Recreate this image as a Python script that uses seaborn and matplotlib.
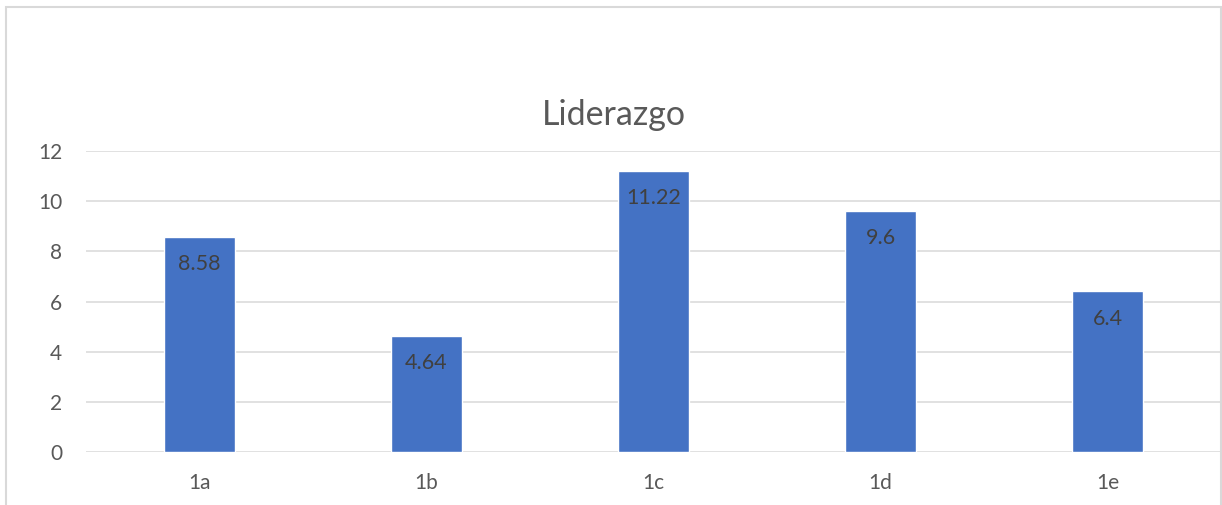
import matplotlib
matplotlib.use("Agg")
import matplotlib.pyplot as plt
import seaborn as sns
import pandas as pd
from matplotlib.patches import Rectangle

categories = ["1a", "1b", "1c", "1d", "1e"]
values = [8.58, 4.64, 11.22, 9.6, 6.4]
value_labels = ["8.58", "4.64", "11.22", "9.6", "6.4"]
y_ticks = [0, 2, 4, 6, 8, 10, 12]

sns.set_style("white")
plt.rcParams["font.family"] = ["Lato", "DejaVu Sans"]

df = pd.DataFrame({"cat": categories, "val": values})

fig = plt.figure(figsize=(12.22, 5.05), dpi=100)
ax = fig.add_axes([86 / 1222, 1 - 452 / 505, (1221 - 86) / 1222, (452 - 151) / 505])

sns.barplot(ax=ax, data=df, x="cat", y="val", color="#4472C4", width=0.31,
            saturation=1, zorder=3)

ax.set_ylim(0, 12)
ax.set_xlim(-0.5, 4.5)
ax.set_yticks(y_ticks)
ax.set_xlabel("")
ax.set_ylabel("")
ax.grid(axis="y", color="#d9d9d9", linewidth=1.1, zorder=0)
ax.set_axisbelow(True)
for s in ax.spines.values():
    s.set_visible(False)
ax.tick_params(axis="both", length=0, labelsize=15, colors="#595959")
ax.tick_params(axis="x", pad=15)
ax.tick_params(axis="y", pad=17)

for i, (v, lab) in enumerate(zip(values, value_labels)):
    ax.annotate(lab, xy=(i, v), xytext=(0, -19.5), textcoords="offset points",
                ha="center", va="center", fontsize=15.5, color="#404040")

fig.text(614 / 1222, 1 - 115 / 505, "Liderazgo", ha="center", va="center",
         fontsize=24.5, color="#595959")

fig.patches.append(Rectangle((5.5 / 1222, -0.05), (1221 - 5.5) / 1222, 1.05 - 6.5 / 505,
                             transform=fig.transFigure, fill=False,
                             edgecolor="#d9d9d9", linewidth=1.5))

fig.savefig("out.png", dpi=100)
